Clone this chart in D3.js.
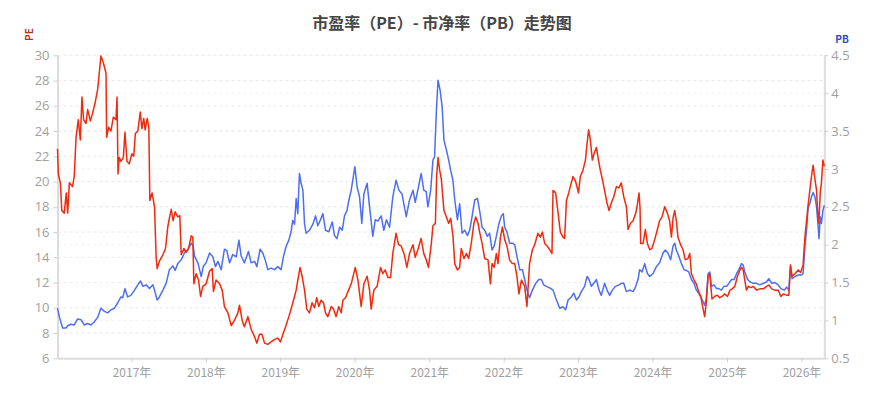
<!DOCTYPE html>
<html>
<head>
<meta charset="utf-8">
<script src="https://cdn.jsdelivr.net/npm/d3@7"></script>
<style>
  body { margin: 0; background: #fff; }
  text { font-family: "Noto Sans CJK SC", "Noto Sans", sans-serif; }
</style>
</head>
<body>
<div id="chart"></div>
<script>
// PE series (date, value)
const peDates = [
  "2016-01-04","2016-01-08","2016-01-18","2016-01-25","2016-02-06","2016-02-16","2016-02-23","2016-03-02","2016-03-18","2016-03-26",
  "2016-04-04","2016-04-15","2016-04-25","2016-05-03","2016-05-11","2016-05-23","2016-05-31","2016-06-13","2016-06-24","2016-07-06",
  "2016-07-19","2016-07-27","2016-08-04","2016-08-16","2016-08-24","2016-08-29","2016-09-01","2016-09-11","2016-09-22","2016-10-04",
  "2016-10-17","2016-10-22","2016-10-27","2016-11-02","2016-11-10","2016-11-22","2016-11-30","2016-12-10","2016-12-21","2017-01-03",
  "2017-01-12","2017-01-20","2017-02-01","2017-02-13","2017-02-21","2017-03-02","2017-03-09","2017-03-19","2017-03-27","2017-04-01",
  "2017-04-12","2017-04-24","2017-05-02","2017-05-07","2017-05-18","2017-06-04","2017-06-17","2017-06-28","2017-07-06","2017-07-15",
  "2017-07-24","2017-08-03","2017-08-16","2017-08-26","2017-09-02","2017-09-15","2017-09-26","2017-10-08","2017-10-21","2017-10-29",
  "2017-11-03","2017-11-14","2017-11-26","2017-12-06","2017-12-17","2018-01-02","2018-01-19","2018-02-01","2018-02-07","2018-02-20",
  "2018-03-09","2018-03-22","2018-04-02","2018-04-19","2018-05-05","2018-05-21","2018-06-07","2018-06-15","2018-06-28","2018-07-09",
  "2018-07-26","2018-08-11","2018-08-28","2018-09-08","2018-09-21","2018-10-03","2018-10-16","2018-11-01","2018-11-17","2018-12-04",
  "2018-12-20","2019-01-02","2019-01-14","2019-01-27","2019-02-12","2019-02-23","2019-03-07","2019-03-20","2019-03-28","2019-04-08",
  "2019-04-18","2019-04-30","2019-05-11","2019-05-24","2019-06-06","2019-06-18","2019-06-29","2019-07-09","2019-07-20","2019-08-01",
  "2019-08-11","2019-08-22","2019-09-08","2019-09-19","2019-10-02","2019-10-15","2019-10-27","2019-11-04","2019-11-17","2019-12-02",
  "2019-12-15","2020-01-04","2020-01-17","2020-02-02","2020-02-15","2020-03-02","2020-03-14","2020-03-22","2020-04-04","2020-04-20",
  "2020-05-07","2020-05-18","2020-05-30","2020-06-12","2020-06-25","2020-07-06","2020-07-22","2020-08-03","2020-08-16","2020-09-01",
  "2020-09-13","2020-09-26","2020-10-13","2020-10-24","2020-11-06","2020-11-22","2020-12-05","2020-12-17","2020-12-28","2021-01-11",
  "2021-01-19","2021-01-31","2021-02-06","2021-02-13","2021-02-21","2021-03-01","2021-03-14","2021-03-26","2021-04-06","2021-04-16",
  "2021-04-27","2021-05-06","2021-05-19","2021-05-30","2021-06-07","2021-06-20","2021-07-02","2021-07-13","2021-07-26","2021-08-08",
  "2021-08-17","2021-08-28","2021-09-05","2021-09-17","2021-09-30","2021-10-16","2021-10-28","2021-11-05","2021-11-15","2021-11-26",
  "2021-12-04","2021-12-16","2021-12-26","2022-01-06","2022-01-17","2022-01-30","2022-02-12","2022-02-24","2022-03-07","2022-03-17",
  "2022-03-29","2022-04-14","2022-04-25","2022-05-08","2022-05-22","2022-06-02","2022-06-18","2022-06-30","2022-07-10","2022-07-21",
  "2022-08-02","2022-08-15","2022-08-26","2022-08-31","2022-09-13","2022-09-25","2022-10-06","2022-10-19","2022-10-27","2022-11-05",
  "2022-11-16","2022-11-24","2022-12-07","2022-12-20","2023-01-03","2023-01-12","2023-01-25","2023-02-06","2023-02-14","2023-02-22",
  "2023-03-02","2023-03-12","2023-03-20","2023-04-01","2023-04-09","2023-04-20","2023-04-30","2023-05-11","2023-05-23","2023-06-02",
  "2023-06-13","2023-06-25","2023-07-08","2023-07-21","2023-08-01","2023-08-13","2023-08-26","2023-09-03","2023-09-15","2023-09-28",
  "2023-10-11","2023-10-19","2023-10-27","2023-11-01","2023-11-04","2023-11-16","2023-11-27","2023-12-07","2023-12-19","2023-12-29",
  "2024-01-12","2024-01-25","2024-02-05","2024-02-17","2024-03-01","2024-03-14","2024-03-25","2024-04-03","2024-04-11","2024-04-19",
  "2024-04-27","2024-05-05","2024-05-18","2024-05-30","2024-06-10","2024-06-23","2024-07-02","2024-07-10","2024-07-23","2024-08-03",
  "2024-08-12","2024-08-25","2024-09-02","2024-09-13","2024-09-21","2024-09-30","2024-10-08","2024-10-19","2024-11-01","2024-11-14",
  "2024-11-26","2024-12-07","2024-12-20","2025-01-03","2025-01-15","2025-01-26","2025-02-08","2025-02-21","2025-03-05","2025-03-13",
  "2025-03-21","2025-03-29","2025-04-06","2025-04-15","2025-04-28","2025-05-09","2025-05-26","2025-06-11","2025-06-28","2025-07-14",
  "2025-07-25","2025-08-08","2025-08-24","2025-09-09","2025-09-22","2025-10-04","2025-10-20","2025-10-31","2025-11-08","2025-11-16",
  "2025-11-30","2025-12-16","2025-12-28","2026-01-09","2026-01-18","2026-01-26","2026-02-03","2026-02-11","2026-02-19","2026-02-27",
  "2026-03-08","2026-03-16","2026-03-21","2026-03-27","2026-04-03","2026-04-09","2026-04-16","2026-04-23"
];
const peValues = [
  22.6,20.6,19.9,17.7,17.5,19.1,17.5,19.9,19.6,20.4,
  23.5,24.9,23.3,26.7,24.9,24.6,25.7,24.8,25.4,26.2,
  27.3,28.6,29.95,29.4,28.9,28.6,23.5,24.3,24.0,25.1,
  24.9,26.7,20.6,21.9,21.6,21.9,23.9,21.6,21.4,22.2,
  22.0,23.8,24.0,25.5,24.2,25.0,24.1,25.0,24.3,18.5,
  19.1,18.0,14.0,13.1,13.7,14.2,14.7,16.4,17.1,17.8,
  16.9,17.6,17.2,17.3,14.2,14.7,14.4,14.7,15.7,15.6,
  11.9,12.7,12.2,10.9,11.7,11.9,12.9,13.1,11.3,12.2,
  11.9,11.4,10.1,9.6,8.6,9.0,9.6,10.2,9.0,8.5,
  9.3,8.3,7.7,7.2,7.9,7.9,7.2,7.1,7.3,7.5,
  7.6,7.3,7.9,8.5,9.3,9.9,10.6,11.4,12.2,13.2,
  12.5,11.4,9.9,9.6,10.4,10.0,10.8,10.1,10.6,10.4,
  9.6,9.3,10.1,9.9,9.3,10.1,9.6,10.6,10.8,11.4,
  11.9,13.2,12.2,10.1,11.9,12.5,11.4,9.9,11.4,11.7,
  13.2,12.7,13.0,12.4,12.4,14.3,15.9,15.0,14.9,14.2,
  13.2,14.3,15.0,14.0,14.6,15.5,14.3,13.8,13.2,15.1,
  16.5,16.7,20.4,21.9,20.9,20.2,17.7,17.2,16.7,17.1,
  15.7,13.5,13.0,13.2,14.7,13.9,14.3,13.9,15.1,16.7,
  17.2,16.7,16.0,15.1,13.9,13.8,11.9,13.5,13.2,14.3,
  13.5,15.6,16.4,15.4,14.9,13.8,13.5,13.5,12.5,11.1,
  12.2,11.7,10.1,13.5,14.6,15.0,15.9,15.6,16.0,15.1,
  14.9,14.6,14.3,19.3,19.1,17.5,16.0,15.6,15.5,18.5,
  19.1,19.6,20.4,20.0,19.1,20.4,20.9,21.7,23.0,24.1,
  23.3,21.7,22.2,22.7,21.9,20.9,20.2,19.3,18.3,17.7,
  18.3,18.8,19.6,19.5,19.9,18.8,18.0,16.2,16.7,16.9,
  17.5,18.2,19.1,17.9,15.1,15.1,16.2,15.1,14.6,14.7,
  15.4,16.2,16.9,17.2,18.0,17.5,16.9,15.6,17.1,17.7,
  16.9,15.6,15.0,14.6,13.8,13.9,14.3,12.7,12.2,11.9,
  11.4,10.9,10.2,9.3,10.4,12.5,12.7,10.7,10.9,11.0,
  10.8,10.9,11.1,10.9,11.4,11.5,11.7,12.5,13.0,13.2,
  13.0,12.2,11.4,11.7,11.6,11.7,11.4,11.5,11.5,11.7,
  11.8,11.5,11.4,11.4,10.9,11.1,11.0,11.0,13.4,12.5,
  12.7,13.0,12.8,13.4,15.6,16.9,18.2,19.3,20.4,21.3,
  20.2,19.3,17.7,16.7,19.1,19.9,21.7,21.2
];

// PB series (date, value)
const pbDates = [
  "2016-01-04","2016-01-13","2016-01-29","2016-02-14","2016-02-23","2016-03-10","2016-03-26","2016-04-12","2016-04-28","2016-05-14",
  "2016-05-31","2016-06-16","2016-07-02","2016-07-19","2016-08-04","2016-08-21","2016-09-06","2016-09-22","2016-10-09","2016-10-25",
  "2016-11-10","2016-11-19","2016-11-30","2016-12-13","2016-12-29","2017-01-16","2017-02-01","2017-02-14","2017-02-26","2017-03-14",
  "2017-03-30","2017-04-16","2017-04-24","2017-05-07","2017-05-18","2017-06-04","2017-06-20","2017-07-06","2017-07-23","2017-08-03",
  "2017-08-16","2017-09-02","2017-09-18","2017-10-05","2017-10-21","2017-10-31","2017-11-06","2017-11-23","2017-12-09","2017-12-20",
  "2018-01-02","2018-01-19","2018-02-04","2018-02-17","2018-03-01","2018-03-17","2018-04-02","2018-04-14","2018-04-27","2018-05-13",
  "2018-05-30","2018-06-12","2018-06-23","2018-07-09","2018-07-29","2018-08-11","2018-08-28","2018-09-08","2018-09-24","2018-10-07",
  "2018-10-19","2018-11-01","2018-11-17","2018-12-04","2018-12-20","2019-01-05","2019-01-17","2019-01-30","2019-02-12","2019-02-23",
  "2019-03-03","2019-03-12","2019-03-20","2019-03-28","2019-04-05","2019-04-13","2019-04-22","2019-04-30","2019-05-08","2019-05-24",
  "2019-06-10","2019-06-23","2019-07-04","2019-07-16","2019-07-29","2019-08-11","2019-08-27","2019-09-13","2019-09-24","2019-10-06",
  "2019-10-19","2019-11-01","2019-11-12","2019-11-24","2019-12-03","2019-12-15","2020-01-02","2020-01-13","2020-01-25","2020-02-05",
  "2020-02-15","2020-03-02","2020-03-14","2020-03-30","2020-04-11","2020-04-24","2020-05-10","2020-05-23","2020-06-05","2020-06-20",
  "2020-07-06","2020-07-22","2020-08-05","2020-08-20","2020-09-01","2020-09-10","2020-09-26","2020-10-13","2020-10-24","2020-11-09",
  "2020-11-22","2020-12-05","2020-12-17","2020-12-25","2021-01-08","2021-01-19","2021-01-27","2021-02-05","2021-02-13","2021-02-23",
  "2021-03-05","2021-03-14","2021-03-26","2021-04-06","2021-04-16","2021-04-27","2021-05-06","2021-05-19","2021-05-30","2021-06-11",
  "2021-06-24","2021-07-07","2021-07-18","2021-07-30","2021-08-12","2021-08-25","2021-09-05","2021-09-17","2021-09-30","2021-10-13",
  "2021-10-24","2021-11-05","2021-11-15","2021-11-26","2021-12-09","2021-12-21","2021-12-30","2022-01-06","2022-01-17","2022-01-30",
  "2022-02-12","2022-02-24","2022-03-07","2022-03-21","2022-04-03","2022-04-14","2022-04-25","2022-05-08","2022-05-22","2022-06-07",
  "2022-06-23","2022-07-05","2022-07-16","2022-07-29","2022-08-15","2022-08-31","2022-09-17","2022-10-03","2022-10-19","2022-11-01",
  "2022-11-13","2022-11-29","2022-12-11","2022-12-24","2023-01-05","2023-01-17","2023-02-02","2023-02-14","2023-02-24","2023-03-07",
  "2023-03-19","2023-04-01","2023-04-14","2023-04-25","2023-05-11","2023-05-23","2023-06-05","2023-06-18","2023-07-04","2023-07-21",
  "2023-08-01","2023-08-13","2023-08-26","2023-09-11","2023-09-28","2023-10-11","2023-10-22","2023-10-30","2023-11-11","2023-11-24",
  "2023-12-07","2023-12-19","2024-01-04","2024-01-20","2024-02-05","2024-02-22","2024-03-04","2024-03-17","2024-03-30","2024-04-11",
  "2024-04-19","2024-04-27","2024-05-09","2024-05-22","2024-06-04","2024-06-15","2024-06-27","2024-07-10","2024-07-23","2024-08-03",
  "2024-08-15","2024-08-25","2024-09-05","2024-09-13","2024-09-21","2024-09-30","2024-10-08","2024-10-16","2024-10-29","2024-11-10",
  "2024-11-21","2024-12-04","2024-12-17","2024-12-30","2025-01-10","2025-01-23","2025-02-05","2025-02-17","2025-02-28","2025-03-13",
  "2025-03-21","2025-03-29","2025-04-12","2025-04-23","2025-05-09","2025-05-26","2025-06-11","2025-06-28","2025-07-14","2025-07-25",
  "2025-08-08","2025-08-24","2025-09-09","2025-09-22","2025-10-09","2025-10-20","2025-10-31","2025-11-08","2025-11-16","2025-11-30",
  "2025-12-16","2026-01-02","2026-01-09","2026-01-18","2026-01-26","2026-02-03","2026-02-11","2026-02-19","2026-02-27","2026-03-08",
  "2026-03-16","2026-03-24","2026-03-28","2026-04-03","2026-04-09","2026-04-16","2026-04-23"
];
const pbValues = [
  1.16,1.05,0.90,0.90,0.93,0.95,0.94,1.02,1.01,0.94,
  0.96,0.94,0.98,1.04,1.16,1.12,1.10,1.14,1.16,1.23,
  1.31,1.30,1.42,1.31,1.33,1.40,1.47,1.52,1.45,1.47,
  1.42,1.47,1.40,1.27,1.31,1.40,1.49,1.67,1.72,1.66,
  1.75,1.80,1.89,1.93,2.02,1.98,1.85,1.76,1.58,1.72,
  1.76,1.89,1.84,1.71,1.78,1.67,1.94,1.92,1.76,1.87,
  1.84,2.06,1.85,1.76,1.91,1.76,1.78,1.71,1.94,1.89,
  1.80,1.67,1.69,1.67,1.71,1.67,1.85,1.98,2.06,2.17,
  2.32,2.27,2.61,2.41,2.94,2.81,2.72,2.27,2.15,2.19,
  2.27,2.38,2.25,2.32,2.41,2.19,2.17,2.30,2.12,2.08,
  2.23,2.19,2.38,2.45,2.58,2.72,3.03,2.76,2.63,2.28,
  2.67,2.81,2.50,2.11,2.33,2.31,2.38,2.19,2.33,2.23,
  2.63,2.85,2.72,2.67,2.50,2.37,2.59,2.72,2.56,2.76,
  2.94,2.72,2.70,2.50,2.72,3.12,3.16,3.78,4.17,4.04,
  3.82,3.38,3.25,3.12,2.98,2.85,2.59,2.33,2.54,2.15,
  2.19,2.12,2.19,2.37,2.59,2.61,2.45,2.23,2.19,2.11,
  2.15,1.93,1.98,2.11,2.28,2.38,2.41,2.23,2.17,2.02,
  2.02,2.00,1.85,1.67,1.67,1.54,1.40,1.30,1.40,1.49,
  1.54,1.54,1.47,1.45,1.43,1.40,1.27,1.16,1.18,1.14,
  1.27,1.31,1.36,1.27,1.31,1.38,1.45,1.58,1.54,1.45,
  1.49,1.54,1.40,1.33,1.49,1.40,1.33,1.40,1.45,1.47,
  1.49,1.49,1.38,1.40,1.38,1.45,1.54,1.67,1.64,1.75,
  1.62,1.58,1.62,1.71,1.76,1.89,1.93,1.89,1.80,1.98,
  2.02,1.93,1.85,1.75,1.67,1.66,1.64,1.54,1.49,1.40,
  1.36,1.31,1.25,1.20,1.29,1.62,1.64,1.45,1.47,1.42,
  1.42,1.40,1.45,1.45,1.49,1.54,1.54,1.62,1.67,1.75,
  1.73,1.64,1.54,1.51,1.49,1.49,1.47,1.49,1.51,1.55,
  1.49,1.50,1.47,1.42,1.40,1.44,1.40,1.71,1.55,1.58,
  1.60,1.60,1.62,1.98,2.19,2.50,2.54,2.63,2.69,2.63,
  2.50,2.23,2.08,2.37,2.28,2.45,2.52
];

const yearTicks = ["2017","2018","2019","2020","2021","2022","2023","2024","2025","2026"];
const peTicks = [6, 8, 10, 12, 14, 16, 18, 20, 22, 24, 26, 28, 30];
const pbTicks = [0.5, 1, 1.5, 2, 2.5, 3, 3.5, 4, 4.5];

const width = 881, height = 403;
const margin = { top: 55.3, right: 56.7, bottom: 44.7, left: 57.5 };

const parse = d3.timeParse("%Y-%m-%d");
const peData = peDates.map((d, i) => ({ date: parse(d), value: peValues[i] }));
const pbData = pbDates.map((d, i) => ({ date: parse(d), value: pbValues[i] }));

const svg = d3.select("#chart")
  .append("svg")
  .attr("width", width)
  .attr("height", height);

const x = d3.scaleTime()
  .domain(d3.extent(peData.concat(pbData), d => d.date))
  .range([margin.left, width - margin.right]);
const yPE = d3.scaleLinear().domain([6, 30]).range([height - margin.bottom, margin.top]);
const yPB = d3.scaleLinear().domain([0.5, 4.5]).range([height - margin.bottom, margin.top]);

// grid lines (both axes)
const grid = svg.append("g");
grid.selectAll("line.pe")
  .data(peTicks.slice(1))
  .join("line")
  .attr("x1", margin.left).attr("x2", width - margin.right)
  .attr("y1", d => yPE(d)).attr("y2", d => yPE(d))
  .attr("stroke", "#e8e8e8").attr("stroke-dasharray", "3,3");
grid.selectAll("line.pb")
  .data(pbTicks.slice(1))
  .join("line")
  .attr("x1", margin.left).attr("x2", width - margin.right)
  .attr("y1", d => yPB(d)).attr("y2", d => yPB(d))
  .attr("stroke", "#f0f0f0").attr("stroke-dasharray", "3,3");

// axes
const xAxis = d3.axisBottom(x)
  .tickValues(yearTicks.map(y => parse(y + "-01-01")))
  .tickFormat(d => d3.timeFormat("%Y")(d) + "年")
  .tickSize(4).tickSizeOuter(0).tickPadding(6);
const gx = svg.append("g")
  .attr("transform", `translate(0,${height - margin.bottom})`)
  .call(xAxis);

const gl = svg.append("g")
  .attr("transform", `translate(${margin.left},0)`)
  .call(d3.axisLeft(yPE).tickValues(peTicks).tickSize(4).tickSizeOuter(0).tickPadding(4));

const gr = svg.append("g")
  .attr("transform", `translate(${width - margin.right},0)`)
  .call(d3.axisRight(yPB).tickValues(pbTicks).tickFormat(d3.format("~g")).tickSize(4).tickSizeOuter(0).tickPadding(3));

[gx, gl, gr].forEach(g => {
  g.select(".domain").attr("stroke", "#dcdcdc").attr("stroke-width", 2);
  g.selectAll(".tick line").attr("stroke", "#cfcfcf");
  g.selectAll(".tick text")
    .attr("fill", "#a0a0a0")
    .style("font-size", "13px")
    .style("font-family", "'Open Sans', 'Noto Sans CJK SC', sans-serif");
});
gx.selectAll(".tick text").style("font-family", "'Noto Sans CJK SC', sans-serif").style("font-size", "12px");

// lines
const pbLine = d3.line().x(d => x(d.date)).y(d => yPB(d.value));
const peLine = d3.line().x(d => x(d.date)).y(d => yPE(d.value));

svg.append("path")
  .datum(pbData)
  .attr("fill", "none")
  .attr("stroke", "#4d6ef2")
  .attr("stroke-width", 1.5)
  .attr("stroke-linejoin", "round")
  .attr("d", pbLine);

svg.append("path")
  .datum(peData)
  .attr("fill", "none")
  .attr("stroke", "#f2290c")
  .attr("stroke-width", 1.5)
  .attr("stroke-linejoin", "round")
  .attr("d", peLine);

// title and axis names
svg.append("text")
  .attr("x", 442)
  .attr("y", 29)
  .attr("text-anchor", "middle")
  .attr("fill", "#464646")
  .style("font-size", "16px")
  .style("font-weight", "bold")
  .text("市盈率（PE）- 市净率（PB）走势图");

svg.append("text")
  .attr("transform", "translate(33,34.5) rotate(-90)")
  .attr("text-anchor", "middle")
  .attr("fill", "#b3301c")
  .style("font-size", "10px")
  .style("font-weight", "bold")
  .text("PE");

svg.append("text")
  .attr("x", 842)
  .attr("y", 43)
  .attr("text-anchor", "middle")
  .attr("fill", "#2a49b8")
  .style("font-size", "10px")
  .style("font-weight", "bold")
  .text("PB");
</script>
</body>
</html>
